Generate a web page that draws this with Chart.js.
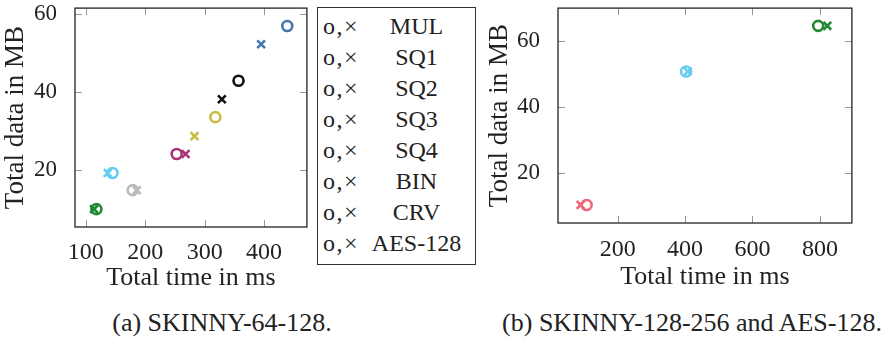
<!DOCTYPE html>
<html><head><meta charset="utf-8">
<script src="https://cdn.jsdelivr.net/npm/chart.js@4.4.1/dist/chart.umd.min.js"></script>
<style>
html,body{margin:0;padding:0;background:#fff;width:891px;height:340px;overflow:hidden;font-family:"Liberation Serif","Times New Roman","DejaVu Serif",serif;color:#222}
.box{position:absolute}
#legend{position:absolute;left:317px;top:7px;width:159px;height:258px;border:1px solid #333;box-sizing:border-box}
.row{position:absolute;left:0;width:100%;height:30px;line-height:30px;font-size:24px}
.row .m{position:absolute;left:5px;letter-spacing:1.5px}
.row .n{position:absolute;left:44px;right:4px;text-align:center}
.cap{position:absolute;top:308px;height:30px;line-height:30px;font-size:26px;white-space:nowrap;transform:translateX(-50%)}
</style></head><body>
<div class="box" style="left:0;top:0;width:315px;height:294px"><canvas id="ca"></canvas></div>
<div class="box" style="left:480px;top:0;width:380px;height:293px"><canvas id="cb"></canvas></div>
<div id="legend"></div>
<div class="cap" style="left:222px">(a) SKINNY-64-128.</div>
<div class="cap" style="left:692px">(b) SKINNY-128-256 and AES-128.</div>
<script>
// ---- data ----
const legendNames = ['MUL','SQ1','SQ2','SQ3','SQ4','BIN','CRV','AES-128'];

const namesA   = ['MUL','SQ1','SQ2','SQ3','SQ4','BIN','CRV'];
const colorsA  = ['#4477AA','#111111','#CCBB44','#AA3377','#BBBBBB','#66CCEE','#228833'];
const circTimeA = [439, 357, 318, 253, 179, 145, 118];
const circDataA = [57.0, 42.9, 33.5, 24.0, 14.7, 19.1, 9.8];
const crossTimeA = [395, 329, 283, 268, 186, 137, 114];
const crossDataA = [52.3, 38.1, 28.6, 24.0, 14.7, 19.1, 9.8];
const xTicksA = [100, 200, 300, 400];
const yTicksA = [20, 40, 60];

const namesB   = ['AES-128','BIN','CRV'];
const colorsB  = ['#EE6677','#66CCEE','#228833'];
const circTimeB = [108, 403, 795];
const circDataB = [10.2, 50.8, 64.7];
const crossTimeB = [90, 408, 822];
const crossDataB = [10.2, 50.8, 64.7];
const xTicksB = [200, 400, 600, 800];
const yTicksB = [20, 40, 60];

// ---- legend ----
const lg = document.getElementById('legend');
legendNames.forEach((n,i)=>{
  const r = document.createElement('div');
  r.className='row'; r.style.top=(3+i*31)+'px';
  r.innerHTML='<span class="m">o,×</span><span class="n">'+n+'</span>';
  lg.appendChild(r);
});

const FONT = "'Liberation Serif','Times New Roman','DejaVu Serif', serif";
Chart.defaults.font.family = FONT;
Chart.defaults.color = '#222';

const frame = {
  id:'frame',
  afterDatasetsDraw(chart){
    const {ctx, chartArea:a, scales:{x,y}} = chart;
    ctx.save();
    ctx.strokeStyle='#999'; ctx.lineWidth=1;
    const L=7;
    ctx.beginPath();
    x.ticks.forEach(t=>{const p=Math.round(x.getPixelForValue(t.value))+0.5;
      ctx.moveTo(p,a.bottom);ctx.lineTo(p,a.bottom-L);ctx.moveTo(p,a.top);ctx.lineTo(p,a.top+L);});
    y.ticks.forEach(t=>{const p=Math.round(y.getPixelForValue(t.value))+0.5;
      ctx.moveTo(a.left,p);ctx.lineTo(a.left+L,p);ctx.moveTo(a.right,p);ctx.lineTo(a.right-L,p);});
    ctx.stroke();
    ctx.strokeStyle='#222'; ctx.lineWidth=1.3;
    ctx.strokeRect(a.left,a.top,a.right-a.left,a.bottom-a.top);
    ctx.restore();
  }
};

function makeSets(names, colors, ct, cd, xt, xd){
  const sets=[];
  names.forEach((n,i)=>{
    sets.push({label:n+' o',data:[{x:ct[i],y:cd[i]}],pointStyle:'circle',radius:5,borderWidth:2.6,
      borderColor:colors[i],backgroundColor:'rgba(0,0,0,0)'});
    sets.push({label:n+' x',data:[{x:xt[i],y:xd[i]}],pointStyle:'crossRot',radius:5.5,borderWidth:2.6,
      borderColor:colors[i],backgroundColor:colors[i]});
  });
  return sets;
}

function makeChart(id, sets, xr, yr, xt, yt, yW, xH, pad, xPad, yTitlePad){
  return new Chart(document.getElementById(id), {
    type:'scatter',
    data:{datasets:sets},
    plugins:[frame],
    options:{
      responsive:true, maintainAspectRatio:false, animation:false,
      layout:{padding:pad},
      plugins:{legend:{display:false},tooltip:{enabled:false}},
      scales:{
        x:{type:'linear',min:xr[0],max:xr[1],
          afterBuildTicks:s=>{s.ticks=xt.map(v=>({value:v}));},
          afterFit:s=>{s.height=xH;s.paddingLeft=0;s.paddingRight=0;},
          grid:{display:false},border:{display:false},
          ticks:{font:{size:24},padding:xPad,color:'#222'},
          title:{display:true,text:'Total time in ms',font:{size:26},padding:{top:2,bottom:0},color:'#222'}},
        y:{type:'linear',min:yr[0],max:yr[1],
          afterBuildTicks:s=>{s.ticks=yt.map(v=>({value:v}));},
          afterFit:s=>{s.width=yW;s.paddingTop=0;s.paddingBottom=0;},
          grid:{display:false},border:{display:false},
          ticks:{font:{size:23},padding:10,color:'#222'},
          title:{display:true,text:'Total data in MB',font:{size:27},padding:{top:yTitlePad,bottom:2},color:'#222'}}
      }
    }
  });
}

makeChart('ca', makeSets(namesA,colorsA,circTimeA,circDataA,crossTimeA,crossDataA),
  [82,472],[5.2,61.6],xTicksA,yTicksA,75,67,{top:7,right:6,left:0,bottom:0},3,0);
makeChart('cb', makeSets(namesB,colorsB,circTimeB,circDataB,crossTimeB,crossDataB),
  [23,895],[4.7,70.1],xTicksB,yTicksB,78,70,{top:3,right:6,left:0,bottom:0},4,4);
</script>
</body></html>
